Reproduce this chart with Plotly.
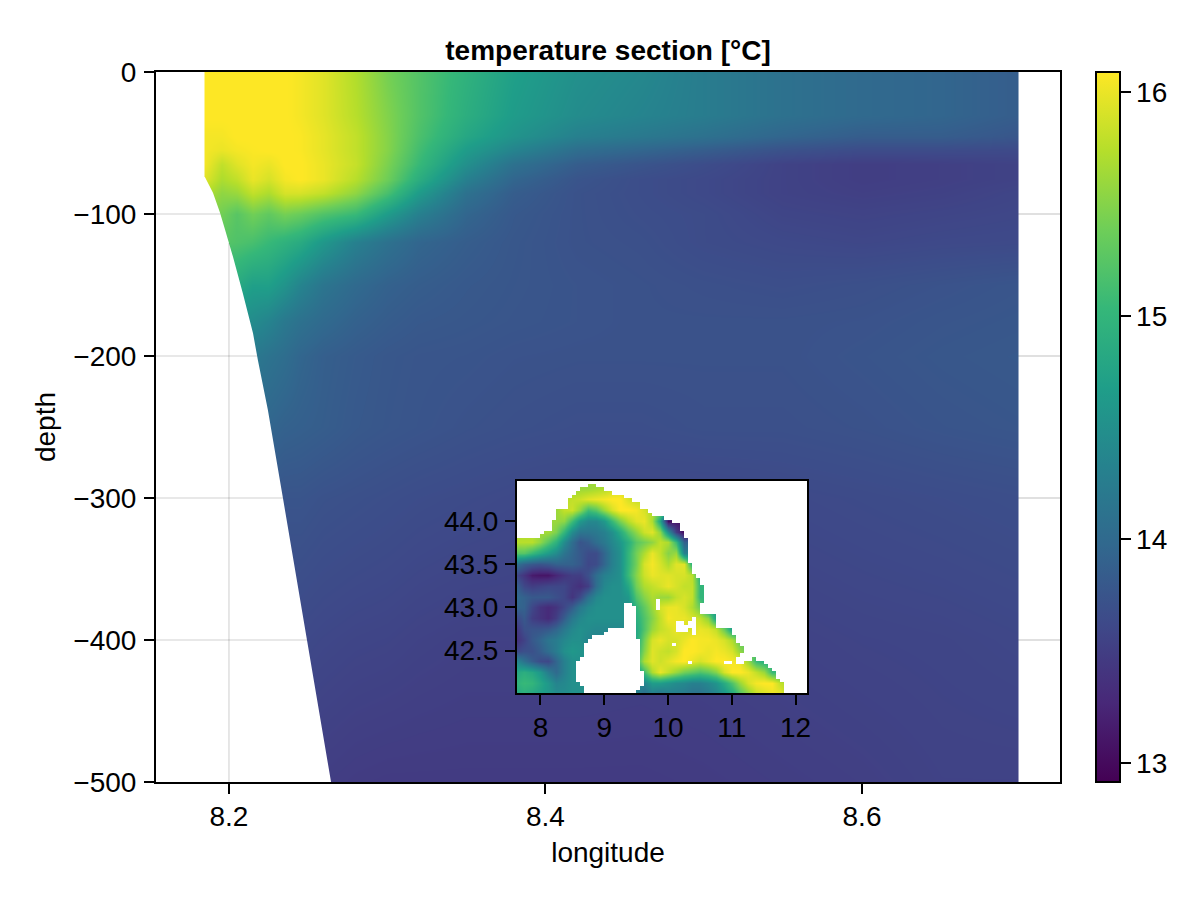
import numpy as np
import plotly.graph_objects as go

FONT = "Liberation Sans"
FS = 28
VMIN, VMAX = 12.915, 16.09

# ---- main section ----
section_lon = [8.1846, 8.195, 8.205, 8.215, 8.225, 8.235, 8.245, 8.26, 8.28, 8.30,
               8.32, 8.35, 8.38, 8.42, 8.46, 8.50, 8.55, 8.60, 8.65, 8.699]
section_depth = [0, -30, -45, -55, -65, -75, -85, -100, -120, -150, -175, -200, -250, -300, -400, -500]
section_temp = [
    [16.10,16.10,16.10,16.10,16.10,16.10,16.05,15.95,15.72,15.42,15.22,14.95,14.70,14.50,14.40,14.25,14.10,14.00,13.95,13.85],
    [16.10,16.10,16.10,16.10,16.10,16.10,16.05,15.95,15.75,15.48,15.22,14.90,14.65,14.45,14.35,14.25,14.10,14.00,13.95,13.85],
    [16.05,16.05,16.10,16.10,16.10,16.10,16.08,15.98,15.80,15.50,15.18,14.80,14.55,14.30,14.20,14.10,13.95,13.85,13.85,13.77],
    [16.05,16.00,16.05,16.08,16.10,16.10,16.08,15.98,15.80,15.50,15.12,14.65,14.35,14.05,13.95,13.85,13.72,13.65,13.65,13.63],
    [16.05,15.80,15.95,16.05,16.00,16.10,16.10,16.00,15.82,15.45,15.05,14.50,14.10,13.85,13.75,13.66,13.55,13.50,13.52,13.55],
    [15.95,15.70,15.80,16.00,15.90,16.05,16.10,16.00,15.75,15.38,14.90,14.30,13.95,13.75,13.67,13.62,13.55,13.50,13.52,13.55],
    [15.75,15.55,15.60,15.80,15.70,15.90,15.90,15.80,15.55,15.15,14.65,14.10,13.85,13.72,13.67,13.62,13.55,13.52,13.54,13.58],
    [15.50,15.40,15.25,15.40,15.30,15.42,15.35,15.20,15.05,14.65,14.30,13.95,13.80,13.72,13.68,13.65,13.58,13.56,13.58,13.60],
    [15.25,15.25,15.20,15.15,15.05,14.95,14.85,14.60,14.30,14.10,13.95,13.85,13.78,13.72,13.70,13.65,13.62,13.60,13.62,13.63],
    [14.85,14.85,14.85,14.70,14.70,14.55,14.35,14.15,14.00,13.90,13.85,13.80,13.77,13.74,13.72,13.70,13.68,13.70,13.73,13.76],
    [14.50,14.50,14.50,14.45,14.35,14.20,14.10,14.00,13.90,13.84,13.80,13.78,13.76,13.74,13.72,13.72,13.72,13.73,13.76,13.78],
    [14.25,14.25,14.25,14.20,14.12,14.05,13.95,13.87,13.82,13.78,13.76,13.75,13.73,13.72,13.72,13.72,13.72,13.75,13.78,13.80],
    [14.00,14.00,14.00,14.00,13.95,13.90,13.88,13.85,13.80,13.77,13.75,13.72,13.70,13.68,13.68,13.70,13.70,13.72,13.75,13.77],
    [13.78,13.78,13.78,13.78,13.78,13.75,13.75,13.72,13.70,13.68,13.66,13.64,13.62,13.60,13.60,13.60,13.62,13.64,13.66,13.68],
    [13.62,13.62,13.62,13.62,13.62,13.62,13.62,13.60,13.58,13.57,13.55,13.53,13.53,13.53,13.52,13.53,13.55,13.57,13.58,13.60],
    [13.52,13.52,13.52,13.52,13.52,13.52,13.52,13.50,13.48,13.47,13.47,13.47,13.47,13.47,13.47,13.48,13.50,13.52,13.55,13.55],
]
# sea floor along the section
bottom_lon = [8.1848, 8.1899, 8.1943, 8.1975, 8.2025, 8.2088, 8.2152, 8.2183, 8.2246, 8.2341, 8.2493, 8.2645]
bottom_depth = [-74, -85, -99, -111, -130, -156, -184, -203, -238, -300, -400, -500]

# ---- inset surface map ----
map_lon = [7.625 + 0.125 * i for i in range(37)]
map_lat = [44.5, 44.375, 44.25, 44.125, 44.0, 43.875, 43.75, 43.625, 43.5, 43.375, 43.25,
           43.125, 43.0, 42.875, 42.75, 42.625, 42.5, 42.375, 42.25, 42.125, 42.0]
map_temp = [
    [15.6,15.6,15.6,15.6,15.6,15.6,15.6,15.6,15.6,15.6,15.6,15.6,15.7,15.8,15.9,15.9,15.9,15.9,15.9,15.9,15.9,15.9,15.9,15.9,15.9,15.9,15.9,15.9,15.9,15.9,15.9,15.9,15.9,15.9,15.9,15.9,15.9],
    [15.6,15.6,15.6,15.6,15.6,15.6,15.6,15.6,15.6,15.6,15.65,15.7,15.8,15.85,15.9,15.9,15.9,15.9,15.9,15.9,15.9,15.9,15.9,15.9,15.9,15.9,15.9,15.9,15.9,15.9,15.9,15.9,15.9,15.9,15.9,15.9,15.9],
    [15.6,15.6,15.6,15.6,15.6,15.7,15.75,15.8,15.85,15.95,16.0,16.05,16.1,16.1,15.9,15.8,15.8,15.8,15.8,15.8,15.8,15.8,15.8,15.8,15.8,15.8,15.8,15.8,15.8,15.8,15.8,15.8,15.8,15.8,15.8,15.8,15.8],
    [15.6,15.6,15.6,15.6,15.6,15.6,15.8,15.85,15.55,15.1,15.25,15.6,15.9,16.1,16.1,16.05,15.9,15.7,15.5,15.0,14.5,14.5,14.5,14.5,14.5,14.5,14.5,14.5,14.5,14.5,14.5,14.5,14.5,14.5,14.5,14.5,14.5],
    [15.7,15.7,15.7,15.6,15.6,15.6,15.55,15.1,14.6,14.4,14.4,14.6,15.05,15.45,15.75,15.95,16.0,15.7,14.75,13.0,13.1,13.1,13.1,13.1,13.1,13.1,13.1,13.1,13.1,13.1,13.1,13.1,13.1,13.1,13.1,13.1,13.1],
    [15.7,15.7,15.7,15.65,15.65,15.45,15.0,14.45,14.15,14.15,14.2,14.3,14.5,14.85,15.25,15.55,15.85,15.95,15.55,14.5,13.5,13.0,13.0,13.0,13.0,13.0,13.0,13.0,13.0,13.0,13.0,13.0,13.0,13.0,13.0,13.0,13.0],
    [15.75,15.75,15.75,15.55,15.25,14.95,14.45,14.05,13.75,13.85,14.05,14.2,14.4,14.6,14.9,15.25,15.4,15.55,15.8,15.7,15.05,13.9,13.9,13.9,13.9,13.9,13.9,13.9,13.9,13.9,13.9,13.9,13.9,13.9,13.9,13.9,13.9],
    [15.25,15.25,15.05,14.85,14.65,14.45,14.15,13.95,13.8,13.65,13.65,13.95,14.3,14.5,15.0,15.4,15.7,16.0,15.8,15.5,15.6,14.3,14.3,14.3,14.3,14.3,14.3,14.3,14.3,14.3,14.3,14.3,14.3,14.3,14.3,14.3,14.3],
    [14.1,13.9,13.8,13.75,13.8,13.9,13.9,13.9,13.8,13.6,13.65,13.95,14.3,14.5,15.0,15.4,15.9,16.05,15.9,15.7,15.95,15.95,14.9,14.9,14.9,14.9,14.9,14.9,14.9,14.9,14.9,14.9,14.9,14.9,14.9,14.9,14.9],
    [13.6,13.4,13.15,13.1,13.1,13.25,13.4,13.5,13.5,13.7,14.05,14.3,14.4,14.5,15.05,15.5,15.85,16.0,15.95,15.95,15.9,15.9,15.75,14.9,14.9,14.9,14.9,14.9,14.9,14.9,14.9,14.9,14.9,14.9,14.9,14.9,14.9],
    [13.9,13.6,13.5,13.55,13.6,13.6,13.6,13.45,13.35,13.5,14.05,14.4,14.5,14.5,14.8,15.4,15.7,15.8,15.9,16.0,15.9,15.8,15.8,15.0,15.0,15.0,15.0,15.0,15.0,15.0,15.0,15.0,15.0,15.0,15.0,15.0,15.0],
    [14.0,13.9,13.8,13.8,13.8,13.7,13.6,13.4,13.65,14.1,14.4,14.5,14.5,14.5,14.6,15.2,15.5,15.7,15.6,15.6,15.8,15.9,15.8,15.0,15.0,15.0,15.0,15.0,15.0,15.0,15.0,15.0,15.0,15.0,15.0,15.0,15.0],
    [13.95,13.9,13.6,13.4,13.3,13.4,13.6,13.85,14.2,14.4,14.5,14.5,14.5,14.5,14.5,15.0,15.3,15.6,15.9,16.0,16.0,15.9,15.7,15.35,14.6,14.6,14.6,14.6,14.6,14.6,14.6,14.6,14.6,14.6,14.6,14.6,14.6],
    [13.6,13.8,13.5,13.4,13.3,13.5,13.85,14.2,14.4,14.5,14.5,14.5,14.5,14.5,14.5,14.9,15.2,15.5,15.8,16.05,16.0,16.0,15.9,15.8,15.55,14.7,14.7,14.7,14.7,14.7,14.7,14.7,14.7,14.7,14.7,14.7,14.7],
    [13.4,13.7,13.75,13.75,13.8,13.95,14.2,14.4,14.5,14.45,14.4,14.4,14.4,14.4,14.4,14.8,15.2,15.6,15.8,15.9,16.0,15.9,15.9,16.0,15.95,15.8,15.35,14.7,14.7,14.7,14.7,14.7,14.7,14.7,14.7,14.7,14.7],
    [13.35,13.55,13.8,13.95,14.15,14.25,14.4,14.5,14.5,14.35,14.35,14.35,14.35,14.35,14.35,14.8,15.4,15.9,16.0,15.9,15.9,16.0,16.1,16.05,16.05,16.0,15.9,15.7,15.3,15.3,15.3,15.3,15.3,15.3,15.3,15.3,15.3],
    [13.6,13.7,13.7,13.85,14.05,14.25,14.5,14.6,14.55,14.5,14.5,14.5,14.5,14.5,14.5,14.9,15.5,15.95,15.85,15.8,15.9,16.1,16.1,16.05,16.0,16.05,16.0,15.9,15.55,15.3,15.3,15.3,15.3,15.3,15.3,15.3,15.3],
    [14.4,14.1,13.85,13.65,13.6,13.95,14.3,14.5,14.5,14.5,14.5,14.5,14.5,14.5,14.5,15.0,15.7,15.95,15.85,15.95,16.05,16.1,16.0,15.9,16.0,16.1,16.1,16.05,16.0,15.6,15.05,14.9,14.9,14.9,14.9,14.9,14.9],
    [14.8,14.9,14.8,14.6,14.25,14.0,14.3,14.5,14.5,14.5,14.5,14.5,14.5,14.5,14.5,14.6,15.1,15.7,16.0,15.8,15.6,15.4,15.3,15.2,15.3,15.5,15.9,16.1,16.1,16.0,15.8,15.6,15.05,15.0,15.0,15.0,15.0],
    [14.95,15.05,15.0,14.8,14.6,14.35,14.4,14.5,14.5,14.5,14.5,14.5,14.5,14.5,14.5,14.4,14.35,14.65,14.65,14.55,14.45,14.4,14.3,14.3,14.4,14.55,14.85,15.2,15.6,15.9,16.05,16.1,16.1,15.8,15.7,15.7,15.7],
    [14.8,14.9,14.8,14.7,14.6,14.45,14.45,14.5,14.5,14.5,14.5,14.5,14.5,14.5,14.5,14.3,14.05,14.25,14.15,14.25,14.25,14.2,14.1,14.1,14.2,14.35,14.55,14.8,15.2,15.5,15.8,15.9,16.0,16.0,15.7,15.6,15.6],
]
# sea cells of the model grid (row start, row end, column start, column end)
sea_spans = [
    (1,2,18,20),(2,3,16,22),(3,4,15,24),(4,5,14,27),(5,6,13,29),(6,8,13,31),(8,9,10,33),(9,10,10,34),
    (10,11,10,37),(11,12,9,39),(12,14,9,41),(14,15,7,42),(15,16,6,42),(16,19,0,43),(19,23,0,43),
    (23,24,0,44),(24,26,0,44),(26,27,0,45),(27,29,0,46),(29,34,0,47),(34,37,0,46),(37,41,0,50),
    (41,43,0,54),(43,45,0,55),(45,46,0,56),(46,48,0,57),(48,49,0,56),(49,50,0,55),(49,50,59,60),
    (50,51,0,55),(50,51,57,62),(51,52,0,63),(52,53,0,64),(53,55,0,65),(55,56,0,66),(56,57,0,67),(57,59,0,67),
]
# land cells inside the sea: islands and Corsica
land_spans = [
    (34,35,27,29),(33,36,35,36),(35,41,27,30),(41,42,23,30),(42,43,22,30),(43,44,19,30),(44,45,18,31),
    (45,49,17,31),(49,50,16,31),(50,53,15,31),(53,56,15,32),(56,57,16,32),(57,58,17,31),(58,59,17,30),
    (38,39,44,45),(39,40,40,42),(39,40,43,45),(40,41,40,45),(41,42,40,43),(41,42,44,45),(42,43,44,45),
    (45,46,39,40),(50,51,43,44),(50,51,52,54),
]

# ---- ticks ----
x_ticks = [8.2, 8.4, 8.6]
y_ticks = [0, -100, -200, -300, -400, -500]
map_x_ticks = [8, 9, 10, 11, 12]
map_y_ticks = [42.5, 43.0, 43.5, 44.0]
cbar_ticks = [13, 14, 15, 16]

# ---- derived mask for the map ----
land = np.ones((59, 73))
for r0, r1, c0, c1 in sea_spans:
    land[r0:r1, c0:c1] = np.nan
for r0, r1, c0, c1 in land_spans:
    land[r0:r1, c0:c1] = 1.0
mask_lon = [7.625 + (i + 0.5) / 16 for i in range(73)]
mask_lat = [44.47 - (j + 0.5) / 24 for j in range(59)]

# pad the outer columns so the picture stops exactly at the first / last longitude
sx = list(section_lon)
sx = [sx[0], sx[0] + 1e-4] + sx[1:-1] + [sx[-1] - 1e-4, sx[-1]]
sz = [[r[0]] + r + [r[-1]] for r in section_temp]

XMIN, XMAX = 8.1539, 8.7251
fig = go.Figure()
fig.add_trace(go.Heatmap(x=sx, y=section_depth, z=sz, zsmooth="best", coloraxis="coloraxis",
                         hoverinfo="skip", xaxis="x", yaxis="y"))
# white below the sea floor, reaching the left axis
fig.add_trace(go.Scatter(x=[XMIN] + bottom_lon + [XMIN], y=[bottom_depth[0]] + bottom_depth + [bottom_depth[-1]],
                         mode="none", fill="toself", fillcolor="white", hoverinfo="skip",
                         showlegend=False, xaxis="x", yaxis="y"))
# grid lines stay visible where the section has no data
gx, gy = [], []
for d in y_ticks[1:-1]:
    gx += [XMIN, float(np.interp(-d, [-v for v in bottom_depth], bottom_lon)), None]
    gy += [d, d, None]
gx += [8.2, 8.2, None]
gy += [float(np.interp(8.2, bottom_lon, bottom_depth)), -500, None]
fig.add_trace(go.Scatter(x=gx, y=gy, mode="lines", line=dict(color="rgba(0,0,0,0.12)", width=1.6),
                         hoverinfo="skip", showlegend=False, xaxis="x", yaxis="y"))

fig.add_trace(go.Heatmap(x=map_lon, y=map_lat, z=map_temp, zsmooth="best", coloraxis="coloraxis",
                         hoverinfo="skip", xaxis="x2", yaxis="y2"))
fig.add_trace(go.Heatmap(x=mask_lon, y=mask_lat, z=land, zmin=0, zmax=1, showscale=False,
                         colorscale=[[0, "white"], [1, "white"]], hoverinfo="skip", xaxis="x2", yaxis="y2"))

W, H = 1200, 900
L, R, T, B = 156, 1060, 72, 782
axis_common = dict(showline=True, linecolor="black", linewidth=2, mirror=True, ticks="outside",
                   ticklen=10, tickwidth=2, tickcolor="black", zeroline=False,
                   tickfont=dict(family=FONT, size=FS, color="black"))
fig.update_layout(
    width=W, height=H, autosize=False,
    margin=dict(l=L, r=W - R, t=T, b=H - B),
    paper_bgcolor="white", plot_bgcolor="white",
    showlegend=False,
    title=dict(text="<b>temperature section [°C]</b>", x=(L + R) / 2 / W, xanchor="center",
               y=1 - 50 / H, yanchor="middle", font=dict(family=FONT, size=FS, color="black")),
    coloraxis=dict(cmin=VMIN, cmax=VMAX, colorscale="Viridis",
                   colorbar=dict(x=(1096 - L) / (R - L), xanchor="left", xref="paper", y=0, yanchor="bottom",
                                 len=1, lenmode="fraction", thickness=24, thicknessmode="pixels",
                                 outlinecolor="black", outlinewidth=2, borderwidth=0, xpad=0, ypad=0,
                                 tickvals=cbar_ticks, ticks="outside", ticklen=10, tickwidth=2, tickcolor="black",
                                 tickfont=dict(family=FONT, size=FS, color="black"))),
    xaxis=dict(range=[XMIN, XMAX], tickvals=x_ticks, tickformat=".1f", showgrid=True,
               gridcolor="rgba(0,0,0,0.12)", gridwidth=1.6, layer="above traces", ticklabelstandoff=-2,
               title=dict(text="longitude", font=dict(family=FONT, size=FS, color="black"), standoff=12),
               anchor="y", **axis_common),
    yaxis=dict(range=[-500, 0], tickvals=y_ticks, showgrid=True,
               gridcolor="rgba(0,0,0,0.12)", gridwidth=1.6, layer="above traces", ticklabelstandoff=2,
               title=dict(text="depth", font=dict(family=FONT, size=FS, color="black"), standoff=10),
               anchor="x", **axis_common),
    xaxis2=dict(domain=[(517 - L) / (R - L), (807 - L) / (R - L)], range=[7.633, 12.18], tickvals=map_x_ticks,
                showgrid=False, anchor="y2", layer="above traces", ticklabelstandoff=-2, **axis_common),
    yaxis2=dict(domain=[(B - 693) / (B - T), (B - 481) / (B - T)], range=[42.01, 44.46], tickvals=map_y_ticks,
                tickformat=".1f", showgrid=False, anchor="x2", layer="above traces", ticklabelstandoff=1, **axis_common),
)
fig.write_html("out.html", config={"displayModeBar": False},
               post_script="document.body.style.margin='0';")
